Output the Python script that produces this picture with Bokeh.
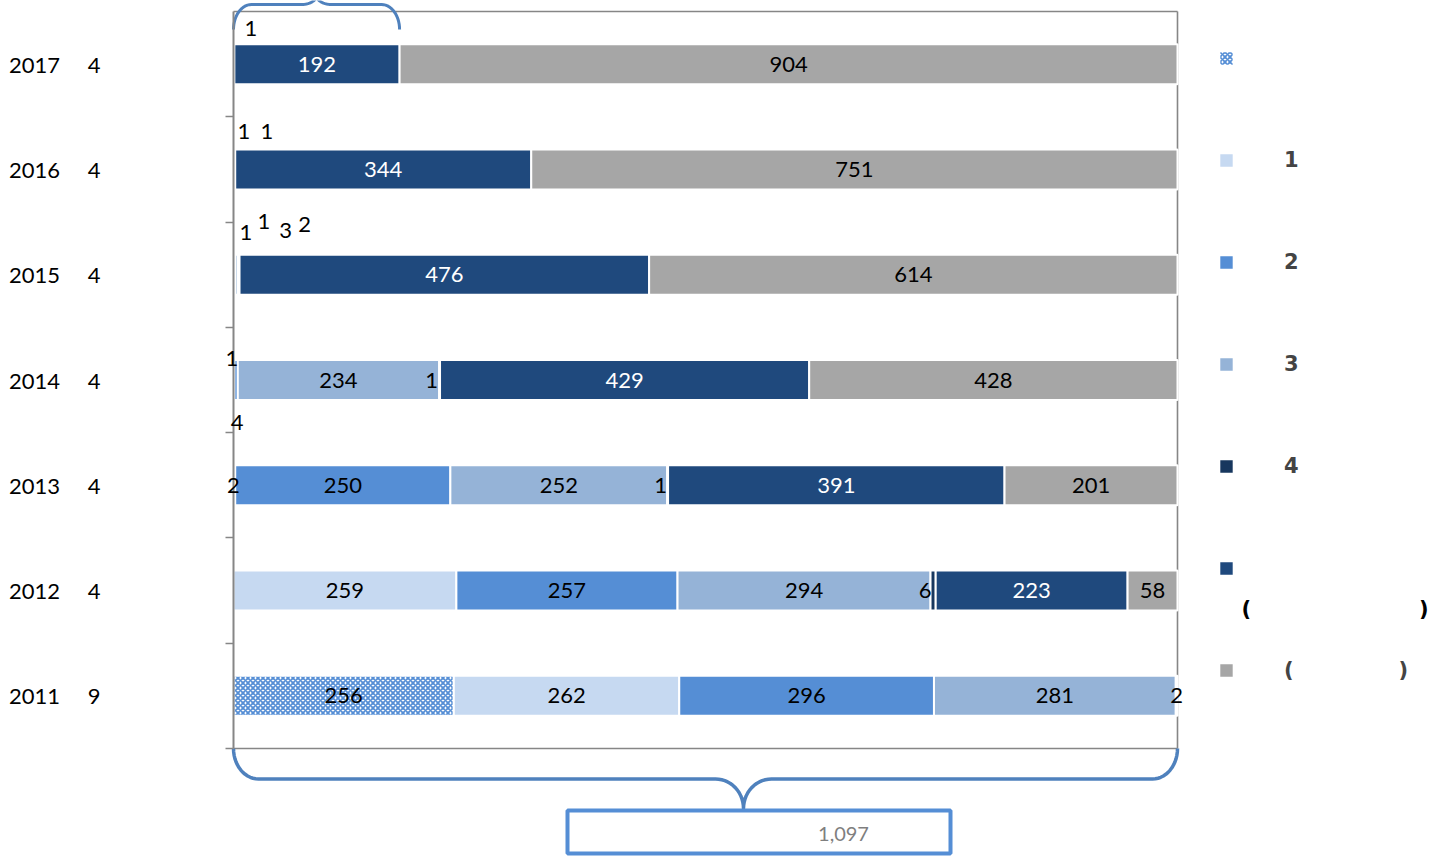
import math
from bokeh.plotting import figure
from bokeh.models import (ColumnDataSource, Range1d, FixedTicker, LinearAxis, Legend,
                          LegendItem, LabelSet, Grid)
from bokeh.core.properties import value
from bokeh.embed import file_html
from bokeh.resources import INLINE

# ---------------- data ----------------
years = ["2011", "2012", "2013", "2014", "2015", "2016", "2017"]
months = ["9", "4", "4", "4", "4", "4", "4"]

s0 = [256, 0, 0, 0, 0, 0, 0]
s1 = [262, 259, 2, 1, 1, 0, 0]
s2 = [296, 257, 250, 4, 1, 0, 0]
s3 = [281, 294, 252, 234, 3, 1, 0]
s4 = [2, 6, 1, 1, 2, 1, 1]
s5 = [0, 223, 391, 429, 476, 344, 192]
s6 = [0, 58, 201, 428, 614, 751, 904]

legend_labels = ["\u3000", "\u3000\u30001", "\u3000\u30002", "\u3000\u30003",
                 "\u3000\u30004", "\u3000",
                 "\u3000\u3000(" + "\u3000" * 5 + ")"]
legend_note = "(" + "\u3000" * 8 + ")"

series = [s0, s1, s2, s3, s4, s5, s6]
n = len(years)
TOTAL = sum(s[0] for s in series)

# ---------------- styles / layout ----------------
bar_colors = ["white", "#c6d9f1", "#558ed5", "#95b3d7", "#17375e", "#1f497d", "#a6a6a6"]
label_colors = ["black", "black", "black", "black", "black", "white", "black"]
# pixel offsets (dx right, dy up) for the small value labels: (year index, series index)
label_offsets = {
    (6, 4): (17, 36),
    (5, 3): (10, 38), (5, 4): (32, 38),
    (4, 1): (12, 42), (4, 2): (29, 53), (4, 3): (49, 44), (4, 4): (66, 50),
    (3, 1): (-2, 22), (3, 2): (1, -42), (3, 4): (-8, 0),
    (2, 1): (-1, 0), (2, 4): (-7, 0),
    (1, 4): (-8, 0),
}

W, H = 1445, 856                 # canvas
PLOT_L, PLOT_T = 233, 11         # plot area origin on the canvas
PLOT_W, PLOT_H = 944, 737        # plot area size
SX = PLOT_W / TOTAL
SY = PLOT_H / n


def dx(px):
    return px / SX


def dy(py):
    return py / SY


x_start = -dx(PLOT_L)
y_end = n + dy(PLOT_T)
p = figure(width=W, height=H,
           x_range=Range1d(x_start, x_start + dx(W)),
           y_range=Range1d(y_end - dy(H), y_end),
           x_axis_location=None, y_axis_location=None,
           toolbar_location=None, output_backend="svg",
           min_border=0, outline_line_color=None,
           background_fill_color="white", border_fill_color="white")
for r in list(p.center):
    if isinstance(r, Grid):
        r.visible = False

# axes drawn at the plot-area's left edge
tick_axis = LinearAxis(ticker=FixedTicker(ticks=list(range(n))), fixed_location=0,
                       bounds=(0, n),
                       major_label_overrides={i: "" for i in range(n)},
                       major_tick_out=8, major_tick_in=0,
                       minor_tick_line_color=None, major_label_standoff=0,
                       axis_line_color="#868686", axis_line_width=2,
                       major_tick_line_color="#868686", major_tick_line_width=1.5)
centers = [i + 0.5 for i in range(n)]
label_axis = LinearAxis(ticker=FixedTicker(ticks=centers), fixed_location=0,
                        major_label_overrides={c: f"{y}\u3000 {m}" for c, y, m in zip(centers, years, months)},
                        major_tick_out=0, major_tick_in=0,
                        major_tick_line_color=None, minor_tick_line_color=None,
                        axis_line_color=None,
                        major_label_standoff=133,
                        major_label_text_font="Lato",
                        major_label_text_font_size="22px",
                        major_label_text_color="black")
p.add_layout(tick_axis, "left")
p.add_layout(label_axis, "left")

# plot-area border (top, right, bottom)
p.segment(x0=[0, TOTAL, 0], y0=[n, n, 0], x1=[TOTAL, TOTAL, TOTAL], y1=[n, 0, 0],
          line_color="#868686", line_width=1.6)

# bars
cum = [0] * n
lab = dict(x=[], y=[], text=[], color=[], dx=[], dy=[])
bar_renderers = []
for k, vals in enumerate(series):
    rows = [i for i in range(n) if vals[i] > 0]
    src = ColumnDataSource(dict(y=[i + 0.5 for i in rows],
                                left=[cum[i] for i in rows],
                                right=[cum[i] + vals[i] for i in rows]))
    if k == 0:
        kw = dict(fill_color="white", hatch_pattern="diagonal_cross",
                  hatch_color="#558ed5", hatch_scale=5, hatch_weight=1.8)
    else:
        kw = dict(fill_color=bar_colors[k])
    r = p.hbar(y="y", left="left", right="right", height=0.38, source=src,
               line_color="white", line_width=2, **kw)
    bar_renderers.append(r)
    for i in rows:
        ox, oy = label_offsets.get((i, k), (0, 0))
        lab["x"].append(cum[i] + vals[i] / 2)
        lab["y"].append(i + 0.5)
        lab["text"].append(f"{vals[i]:,}")
        lab["color"].append(label_colors[k])
        lab["dx"].append(ox)
        lab["dy"].append(oy)
    for i in range(n):
        cum[i] += vals[i]

labels = LabelSet(x="x", y="y", text="text", x_offset="dx", y_offset="dy",
                  text_color="color", text_align="center", text_baseline="middle",
                  text_font=value("Lato"), text_font_size="22px",
                  source=ColumnDataSource(lab))
p.add_layout(labels)

# legend
items = [LegendItem(label=value(legend_labels[k]), renderers=[bar_renderers[k]])
         for k in range(len(series))]
legend = Legend(items=items, location=(1217, 171), orientation="vertical",
                glyph_width=18, glyph_height=18, label_height=31, spacing=71,
                margin=0, padding=0, label_standoff=7,
                border_line_color=None, background_fill_alpha=0,
                label_text_font="DejaVu Sans", label_text_font_style="bold",
                label_text_font_size="21px", label_text_baseline="middle")
p.add_layout(legend)

p.text(x=[dx(1241 - PLOT_L)], y=[dy(140)], text=[legend_note],
       text_font=value("DejaVu Sans"), text_font_style="bold",
       text_font_size="21px", text_baseline="middle", text_align="left")


# braces
def brace(x0, x1, xt, yb, ym, yt, r, rt, m=14):
    pts = []
    for j in range(m + 1):
        t = j / m * math.pi / 2
        pts.append((x0 + r - r * math.cos(t), yb + (ym - yb) * math.sin(t)))
    for j in range(m + 1):
        t = j / m * math.pi / 2
        pts.append((xt - rt + rt * math.sin(t), yt - (yt - ym) * math.cos(t)))
    for j in range(m + 1):
        t = j / m * math.pi / 2
        pts.append((xt + rt - rt * math.cos(t), yt - (yt - ym) * math.sin(t)))
    for j in range(m + 1):
        t = j / m * math.pi / 2
        pts.append((x1 - r + r * math.sin(t), yb + (ym - yb) * math.cos(t)))
    return [a for a, b in pts], [b for a, b in pts]


brace_color = "#4f81bd"
# bottom brace spanning the whole axis
bx, by = brace(0, TOTAL, dx(510), 0, -dy(30.5), -dy(60), dx(25), dx(28))
p.line(bx, by, line_color=brace_color, line_width=3.5, line_join="round")
# top brace over the 2017 dark-blue segment
top_i = n - 1
tx0 = 0
tx1 = sum(s[top_i] for s in series[:6])
tx, ty = brace(tx0, tx1, (tx0 + tx1) / 2, n - dy(18), n + dy(7), n + dy(16),
               dx(18), dx(15))
p.line(tx, ty, line_color=brace_color, line_width=3, line_join="round")

# total box
p.quad(left=[dx(334)], right=[dx(717)], top=[-dy(62)], bottom=[-dy(105)],
       fill_color="white", line_color="#558ed5", line_width=4)
p.text(x=[dx(610)], y=[-dy(85)], text=[f"{TOTAL:,}"], text_font=value("Lato"),
       text_font_size="20px", text_color="#7f7f7f",
       text_align="center", text_baseline="middle")

open("out.html", "w").write(file_html(p, INLINE))
